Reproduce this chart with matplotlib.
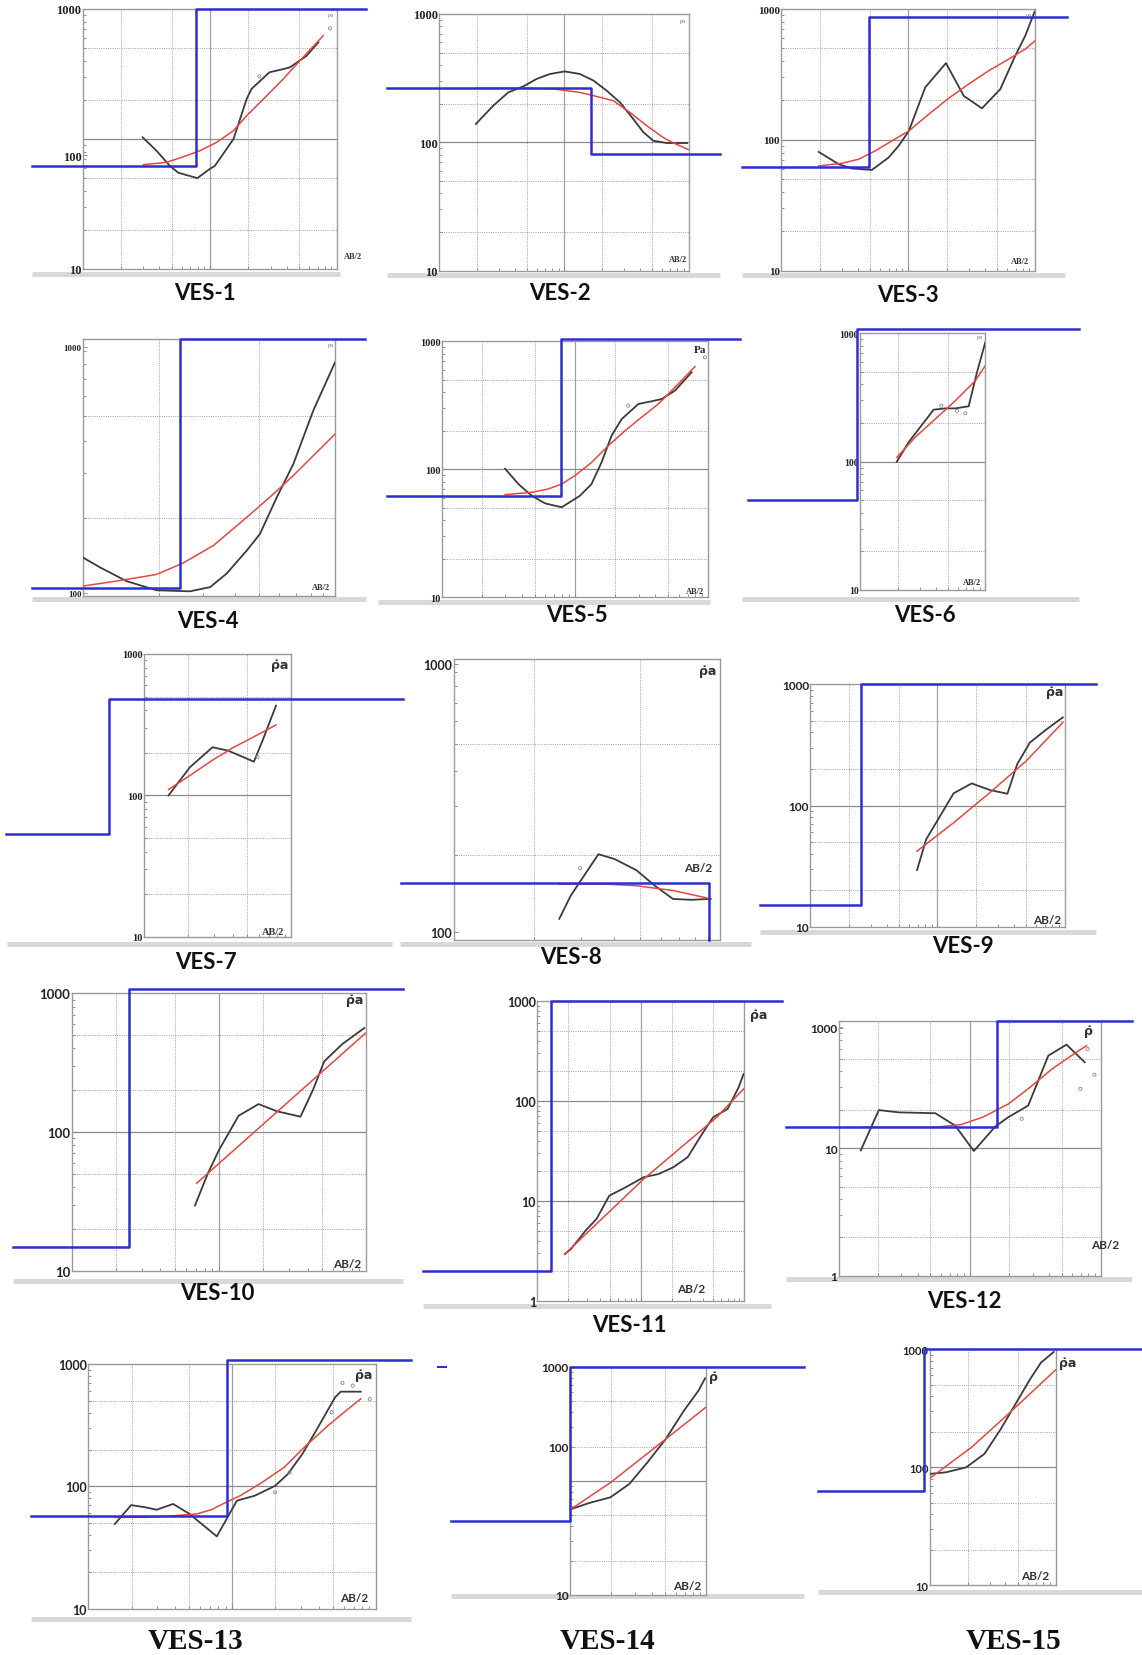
import matplotlib.pyplot as plt
from matplotlib.lines import Line2D
from matplotlib.ticker import LogLocator, NullFormatter

W, H = 1142, 1656

BLUE = "#2e2ecf"
RED = "#e8463f"
BLACK = "#3b3b3b"
GRID = "#a0a0a0"
FRAME = "#9a9a9a"
BAR = "#d8d8d8"
SERIF = ["Liberation Serif", "DejaVu Serif"]
SANS = ["Lato", "DejaVu Sans"]

# ---- field curves (AB/2 in m, apparent resistivity in ohm.m) ----
VES1_AB = [2.96, 3.81, 4.85, 5.64, 7.95, 10.0, 10.9, 15.3, 19.4, 21.2, 29.3, 37.7, 42.5, 57.4, 71]
VES1_RHO = [103, 81, 62, 55, 50, 59, 62, 100, 203, 243, 326, 345, 356, 437, 554]
VES1_FIT_AB = [3.0, 4.57, 6.56, 8.35, 11.3, 15.3, 19.4, 27.9, 37.7, 50.9, 77.6]
VES1_FIT_RHO = [63.5, 66.2, 74.5, 81.3, 94.3, 116, 151, 215, 290, 401, 624]
VES1_MODEL_AB = [0.398, 7.8, 7.8, 167]
VES1_MODEL_RHO = [62, 62, 1000, 1000]
VES1_MARK_AB = [24.4, 87.6]
VES1_MARK_RHO = [303, 709]

VES2_AB = [1.96, 2.70, 3.56, 4.70, 6.01, 7.68, 10.1, 13.3, 17.1, 21.8, 27.9, 35.6, 42.9, 51.5, 65.9, 84.2, 96]
VES2_RHO = [139, 193, 245, 273, 312, 341, 357, 341, 303, 253, 205, 152, 120, 103, 98.8, 98.8, 98.8]
VES2_FIT_AB = [1.96, 4.70, 8.17, 13.3, 17.1, 24.7, 33.5, 45.6, 61.9, 74.5, 98]
VES2_FIT_RHO = [264, 264, 261, 245, 231, 211, 171, 135, 109, 99, 88]
VES2_MODEL_AB = [0.379, 16.5, 16.5, 176]
VES2_MODEL_RHO = [264, 264, 80.5, 80.5]

VES3_AB = [1.97, 2.83, 3.60, 5.17, 7.0, 8.4, 10.1, 13.6, 19.8, 27.3, 38.0, 53, 69.6, 83.4, 98.8]
VES3_RHO = [80.9, 65.2, 60.4, 58.9, 73.3, 90, 117, 252, 386, 217, 174, 244, 440, 625, 954]
VES3_FIT_AB = [1.97, 3.0, 4.06, 5.5, 7.43, 10.1, 14.5, 20.8, 29.9, 42.9, 61.7, 83.4, 100]
VES3_FIT_RHO = [63.2, 66.2, 71.1, 82.4, 98.3, 117, 157, 208, 267, 337, 414, 494, 573]
VES3_MODEL_AB = [0.49, 4.87, 4.87, 178]
VES3_MODEL_RHO = [62.1, 62.1, 863, 863]

VES4_AB = [1.0, 1.17, 1.49, 1.96, 2.66, 3.2, 3.72, 4.47, 5.04, 5.87, 6.84, 8.2, 10]
VES4_RHO = [141, 129, 114, 105, 104, 108, 122, 150, 174, 241, 326, 526, 811]
VES4_FIT_AB = [1.0, 1.36, 1.96, 2.5, 3.3, 4.47, 5.7, 6.84, 8.2, 10]
VES4_FIT_RHO = [109, 114, 121, 134, 157, 202, 249, 294, 351, 426]
VES4_MODEL_AB = [0.628, 2.43, 2.43, 13.2]
VES4_MODEL_RHO = [107, 107, 1000, 1000]

VES5_AB = [2.99, 3.76, 4.73, 5.96, 7.94, 10.9, 13.3, 15.8, 18.8, 22.4, 29.9, 37.6, 44.7, 56.2, 75]
VES5_RHO = [101, 76.7, 62.2, 54.2, 50.5, 62.2, 76.7, 113, 183, 247, 324, 340, 354, 412, 573]
VES5_FIT_AB = [2.99, 4.73, 6.31, 7.94, 10, 13.3, 17.8, 23.7, 31.6, 42.2, 56.2, 79.4]
VES5_FIT_RHO = [63.4, 66.1, 70.2, 76.7, 89.3, 113, 153, 200, 255, 324, 437, 634]
VES5_MODEL_AB = [0.387, 7.85, 7.85, 173]
VES5_MODEL_RHO = [62.2, 62.2, 1043, 1043]
VES5_MARK_AB = [25.1, 94.4]
VES5_MARK_RHO = [314, 750]

VES6_AB = [1.96, 2.44, 3.86, 4.79, 5.75, 7.36, 8.58, 10]
VES6_RHO = [100, 142, 254, 260, 260, 270, 496, 851]
VES6_FIT_AB = [1.96, 2.75, 3.98, 5.75, 8.32, 10]
VES6_FIT_RHO = [108, 155, 215, 298, 427, 560]
VES6_MODEL_AB = [0.126, 0.94, 0.94, 55.8]
VES6_MODEL_RHO = [50.6, 50.6, 1080, 1080]
VES6_MARK_AB = [4.45, 5.93, 6.92]
VES6_MARK_RHO = [273, 249, 238]

VES7_AB = [1.47, 2.05, 2.92, 3.73, 5.57, 6.43, 7.86]
VES7_RHO = [100, 158, 219, 207, 173, 250, 431]
VES7_FIT_AB = [1.47, 2.05, 2.88, 4.07, 5.74, 7.86]
VES7_FIT_RHO = [110, 138, 176, 219, 264, 315]
VES7_MODEL_AB = [0.117, 0.58, 0.58, 56.7]
VES7_MODEL_RHO = [53.2, 53.2, 481, 481]
VES7_MARK_AB = [5.9]
VES7_MARK_RHO = [186]

VES8_AB = [2.49, 2.75, 3.49, 4.02, 4.85, 5.68, 6.64, 7.77, 9.09]
VES8_RHO = [119, 144, 202, 194, 177, 156, 140, 139, 140]
VES8_FIT_AB = [2.48, 3.77, 4.85, 6.64, 9.25]
VES8_FIT_RHO = [158, 158, 156, 150, 140]
VES8_MODEL_AB = [0.633, 9.04, 9.04]
VES8_MODEL_RHO = [160, 160, 100]
VES8_MARK_AB = [2.98]
VES8_MARK_RHO = [180]

VES9_AB = [6.91, 8.15, 9.94, 13.4, 18.6, 25.9, 35.5, 42.4, 53.4, 69.6, 96.8]
VES9_RHO = [29.4, 52.6, 74.5, 126, 152, 134, 125, 219, 330, 412, 531]
VES9_FIT_AB = [6.91, 13.4, 25.9, 50, 96.8]
VES9_FIT_RHO = [42.1, 72.1, 128, 233, 483]
VES9_MODEL_AB = [0.405, 2.49, 2.49, 175]
VES9_MODEL_RHO = [15.1, 15.1, 1000, 1000]

VES10_AB = [6.87, 8.38, 9.95, 13.6, 18.6, 24.8, 35.8, 43.8, 51.9, 69.0, 97.2]
VES10_RHO = [29.5, 49.8, 73.3, 131, 159, 141, 129, 204, 323, 431, 562]
VES10_FIT_AB = [7.06, 17.6, 41.3, 98.9]
VES10_FIT_RHO = [42.7, 101, 226, 515]
VES10_MODEL_AB = [0.397, 2.46, 2.46, 177]
VES10_MODEL_RHO = [14.9, 14.9, 1075, 1075]

VES11_AB = [1.85, 2.12, 2.93, 3.74, 4.97, 7.15, 10.7, 14.9, 20.6, 28.5, 39.3, 50.2, 69.4, 88.7, 99]
VES11_RHO = [2.95, 3.31, 5.05, 6.61, 11.3, 13.7, 17.3, 18.6, 21.7, 27.4, 46.8, 68.7, 83.2, 137, 186]
VES11_FIT_AB = [1.85, 10.7, 54.4, 99]
VES11_FIT_RHO = [2.95, 16.6, 68.7, 132]
VES11_MODEL_AB = [0.078, 1.35, 1.35, 235]
VES11_MODEL_RHO = [2.01, 2.01, 1000, 1000]

VES12_AB = [1.47, 2.02, 2.87, 5.45, 7.74, 10.7, 15.6, 19.6, 27.8, 39.6, 54.5, 75]
VES12_RHO = [9.6, 19.9, 19.1, 18.8, 15.0, 9.5, 14.8, 17.5, 21.6, 53.2, 64.9, 47.2]
VES12_FIT_AB = [1.47, 5.45, 8.52, 12.5, 19.6, 28.7, 42.2, 61.9, 77.4]
VES12_FIT_RHO = [14.6, 14.6, 15.3, 17.5, 22.2, 30.0, 41.8, 54.8, 63.7]
VES12_MODEL_AB = [0.396, 16.2, 16.2, 172]
VES12_MODEL_RHO = [14.6, 14.6, 100, 100]
VES12_MARK_AB = [24.8, 69.5, 89, 78.9]
VES12_MARK_RHO = [17.0, 29.2, 37.7, 60]

VES13_AB = [1.53, 1.99, 2.51, 2.99, 3.89, 5.06, 7.83, 10.8, 14.4, 19.9, 24.4, 30.8, 38.9, 52.0, 56.8, 78.3]
VES13_RHO = [49.2, 70.3, 67.3, 64.4, 71.8, 59.5, 39.0, 76.4, 83.9, 101, 126, 184, 294, 535, 594, 594]
VES13_FIT_AB = [1.53, 2.51, 4.0, 5.68, 7.17, 9.06, 11.4, 16.2, 23.0, 32.6, 46.3, 62.0, 78.3]
VES13_FIT_RHO = [55.8, 55.8, 57.6, 59.5, 64.4, 74.0, 83.9, 108, 143, 215, 313, 416, 518]
VES13_MODEL_AB = [0.40, 9.16, 9.16, 175]
VES13_MODEL_RHO = [56.9, 56.9, 1085, 1085]
VES13_MARK_AB = [58.5, 68.9, 90.6, 19.9, 49.1, 25.1]
VES13_MARK_RHO = [700, 666, 518, 89.3, 403, 130]

VES14_AB = [1.02, 1.38, 1.98, 2.73, 3.72, 5.06, 6.90, 8.83, 9.88]
VES14_RHO = [56.7, 64.1, 71.9, 94.1, 146, 233, 414, 620, 796]
VES14_FIT_AB = [1.0, 2.0, 5.06, 10]
VES14_FIT_RHO = [56, 97.5, 233, 443]
VES14_MODEL_AB = [0.133, 1.0, 1.0, 53.1]
VES14_MODEL_RHO = [44.3, 44.3, 1000, 1000]

VES15_AB = [1.0, 1.35, 1.95, 2.72, 3.67, 4.8, 6.27, 7.66, 9.67]
VES15_RHO = [87.9, 90.8, 100, 130, 211, 343, 557, 771, 949]
VES15_FIT_AB = [1.0, 2.15, 4.2, 10]
VES15_FIT_RHO = [80.7, 148, 282, 668]
VES15_MODEL_AB = [0.129, 0.905, 0.905, 49]
VES15_MODEL_RHO = [63.5, 63.5, 1000, 1000]

SERIES = {
    1: (VES1_AB, VES1_RHO, VES1_FIT_AB, VES1_FIT_RHO, VES1_MODEL_AB, VES1_MODEL_RHO, VES1_MARK_AB, VES1_MARK_RHO),
    2: (VES2_AB, VES2_RHO, VES2_FIT_AB, VES2_FIT_RHO, VES2_MODEL_AB, VES2_MODEL_RHO, [], []),
    3: (VES3_AB, VES3_RHO, VES3_FIT_AB, VES3_FIT_RHO, VES3_MODEL_AB, VES3_MODEL_RHO, [], []),
    4: (VES4_AB, VES4_RHO, VES4_FIT_AB, VES4_FIT_RHO, VES4_MODEL_AB, VES4_MODEL_RHO, [], []),
    5: (VES5_AB, VES5_RHO, VES5_FIT_AB, VES5_FIT_RHO, VES5_MODEL_AB, VES5_MODEL_RHO, VES5_MARK_AB, VES5_MARK_RHO),
    6: (VES6_AB, VES6_RHO, VES6_FIT_AB, VES6_FIT_RHO, VES6_MODEL_AB, VES6_MODEL_RHO, VES6_MARK_AB, VES6_MARK_RHO),
    7: (VES7_AB, VES7_RHO, VES7_FIT_AB, VES7_FIT_RHO, VES7_MODEL_AB, VES7_MODEL_RHO, VES7_MARK_AB, VES7_MARK_RHO),
    8: (VES8_AB, VES8_RHO, VES8_FIT_AB, VES8_FIT_RHO, VES8_MODEL_AB, VES8_MODEL_RHO, VES8_MARK_AB, VES8_MARK_RHO),
    9: (VES9_AB, VES9_RHO, VES9_FIT_AB, VES9_FIT_RHO, VES9_MODEL_AB, VES9_MODEL_RHO, [], []),
    10: (VES10_AB, VES10_RHO, VES10_FIT_AB, VES10_FIT_RHO, VES10_MODEL_AB, VES10_MODEL_RHO, [], []),
    11: (VES11_AB, VES11_RHO, VES11_FIT_AB, VES11_FIT_RHO, VES11_MODEL_AB, VES11_MODEL_RHO, [], []),
    12: (VES12_AB, VES12_RHO, VES12_FIT_AB, VES12_FIT_RHO, VES12_MODEL_AB, VES12_MODEL_RHO, VES12_MARK_AB, VES12_MARK_RHO),
    13: (VES13_AB, VES13_RHO, VES13_FIT_AB, VES13_FIT_RHO, VES13_MODEL_AB, VES13_MODEL_RHO, VES13_MARK_AB, VES13_MARK_RHO),
    14: (VES14_AB, VES14_RHO, VES14_FIT_AB, VES14_FIT_RHO, VES14_MODEL_AB, VES14_MODEL_RHO, [], []),
    15: (VES15_AB, VES15_RHO, VES15_FIT_AB, VES15_FIT_RHO, VES15_MODEL_AB, VES15_MODEL_RHO, [], []),
}

# grid line sets: (dotted, solid)
X100 = ([2, 5, 20, 50], [10])
X10 = ([2, 5], [])
Y10_1000 = ([20, 50, 200, 500], [100])
Y100_1000 = ([200, 500], [])
Y1_1000 = ([2, 5, 20, 50, 200, 500], [10, 100])
Y1_100 = ([2, 5, 20, 50], [10])
DECADES = [10, 100, 1000]
DEC_LABELS = ["10", "100", "1000"]
RHO_DOT = "\u03c1\u0307a"

# layout, in pixels of the 1142x1656 picture
LAYOUT = [
    dict(n=1, box=(82.7, 10, 337.3, 270), xlim=(1, 100), ylim=(10, 1000), xg=X100, yg=Y10_1000,
         yt=[10, 75, 1000], ytl=DEC_LABELS, tf="serif", ts=9, title=(205, 293), tfont="sans",
         bar=(32, 340, 275), rho=("\u03c1a", 331, 16, "tiny"), ab=(353, 257, "serif_s")),
    dict(n=2, box=(439.3, 15, 689.3, 271.7), xlim=(1, 100), ylim=(10, 1000), xg=X100, yg=Y10_1000,
         yt=DECADES, ytl=DEC_LABELS, tf="serif", ts=9, title=(560, 293), tfont="sans",
         bar=(387, 720, 276), rho=("\u03c1a", 683, 21, "tiny"), ab=(678, 260, "serif_s")),
    dict(n=3, box=(781.3, 10, 1035.3, 271.7), xlim=(1, 100), ylim=(10, 1000), xg=X100, yg=Y10_1000,
         yt=DECADES, ytl=DEC_LABELS, tf="serif", ts=8, title=(908, 295), tfont="sans",
         bar=(742, 1065, 276), rho=("\u03c1a", 1029, 15, "tiny"), ab=(1020, 262, "serif_s")),
    dict(n=4, box=(82.7, 340, 335, 596.7), xlim=(1, 10), ylim=(100, 1000), xg=X10, yg=Y100_1000,
         yt=[102, 929], ytl=["100", "1000"], tf="serif", ts=6.5, title=(208, 622), tfont="sans",
         bar=(32, 366, 600), rho=("\u03c1a", 331, 346, "tiny"), ab=(321, 588, "serif_s")),
    dict(n=5, box=(441.7, 342.3, 708.3, 598.3), xlim=(1, 100), ylim=(10, 1000), xg=X100, yg=Y10_1000,
         yt=DECADES, ytl=DEC_LABELS, tf="serif", ts=7.5, title=(577, 615), tfont="sans",
         bar=(378, 710, 603), rho=("Pa", 700, 351, "serif_b"), ab=(695, 592, "serif_s")),
    dict(n=6, box=(860.3, 334.3, 985.3, 591), xlim=(1, 10), ylim=(10, 1000), xg=X10, yg=Y10_1000,
         yt=DECADES, ytl=DEC_LABELS, tf="serif", ts=7, title=(925, 615), tfont="sans",
         bar=(742, 1079, 600), rho=("\u03c1a", 980, 337, "tiny"), ab=(972, 583, "serif_s")),
    dict(n=7, box=(143.9, 655, 291.4, 937.7), xlim=(1, 10), ylim=(10, 1000), xg=X10, yg=Y10_1000,
         yt=DECADES, ytl=DEC_LABELS, tf="serif", ts=7.5, title=(206, 963), tfont="sans",
         bar=(7, 392, 945), rho=(RHO_DOT, 280, 666, "sans_b"), ab=(273, 933, "serif_m")),
    dict(n=8, box=(453.6, 660, 720.4, 941), xlim=(1, 10), ylim=(100, 1000), xg=X10, yg=Y100_1000,
         yt=[107, 960], ytl=["100", "1000"], tf="sans", ts=9, title=(571, 958), tfont="sans",
         bar=(400, 751, 945), rho=(RHO_DOT, 708, 671, "sans_b"), ab=(698, 869, "sans")),
    dict(n=9, box=(810.3, 685, 1064.6, 928), xlim=(1, 100), ylim=(10, 1000), xg=X100, yg=Y10_1000,
         yt=DECADES, ytl=DEC_LABELS, tf="sans", ts=8.5, title=(963, 947), tfont="sans",
         bar=(760, 1096, 933), rho=(RHO_DOT, 1055, 693, "sans_b"), ab=(1047, 921, "sans")),
    dict(n=10, box=(71.8, 994.3, 366.1, 1271.7), xlim=(1, 100), ylim=(10, 1000), xg=X100, yg=Y10_1000,
         yt=DECADES, ytl=DEC_LABELS, tf="sans", ts=9.5, title=(217, 1293), tfont="sans",
         bar=(13, 403, 1282), rho=(RHO_DOT, 355, 1001, "sans_b"), ab=(347, 1265, "sans")),
    dict(n=11, box=(537.3, 1002, 744, 1302), xlim=(1, 100), ylim=(1, 1000), xg=X100, yg=Y1_1000,
         yt=[1, 10, 100, 1000], ytl=["1", "10", "100", "1000"], tf="sans", ts=9, title=(629, 1326),
         tfont="sans", bar=(423, 771, 1307), rho=(RHO_DOT, 759, 1016, "sans_b"), ab=(691, 1290, "sans")),
    dict(n=12, box=(838.8, 1021.7, 1101.1, 1276.7), xlim=(1, 100), ylim=(1, 100), xg=X100, yg=Y1_100,
         yt=[1, 10, 88], ytl=["1", "10", "1000"], tf="sans", ts=8.5, title=(964, 1302), tfont="sans",
         bar=(786, 1132, 1280), rho=("\u03c1\u0307", 1088, 1032, "sans_b"), ab=(1105, 1246, "sans")),
    dict(n=13, box=(88.2, 1365, 376, 1609.7), xlim=(1, 100), ylim=(10, 1000), xg=X100, yg=Y10_1000,
         yt=DECADES, ytl=DEC_LABELS, tf="sans", ts=9, title=(195, 1642), tfont="serif",
         bar=(31, 411, 1620), rho=(RHO_DOT, 364, 1376, "sans_b"), ab=(354, 1599, "sans")),
    dict(n=14, box=(570.1, 1368, 705.8, 1596), xlim=(1, 10), ylim=(10, 1000), xg=X10, yg=Y10_1000,
         yt=[10, 200, 1000], ytl=DEC_LABELS, tf="sans", ts=8.5, title=(607, 1642), tfont="serif",
         bar=(451, 804, 1597), rho=("\u03c1\u0307", 713, 1377, "sans_b"), ab=(687, 1587, "sans")),
    dict(n=15, box=(929.8, 1350.3, 1055.5, 1586.3), xlim=(1, 10), ylim=(10, 1000), xg=X10, yg=Y10_1000,
         yt=DECADES, ytl=DEC_LABELS, tf="sans", ts=8, title=(1014, 1642), tfont="serif",
         bar=(818, 1142, 1593), rho=(RHO_DOT, 1068, 1364, "sans_b"), ab=(1035, 1577, "sans")),
]

TEXT_STYLES = {
    "tiny": dict(family=SERIF, size=4.5, color="#777777"),
    "serif_s": dict(family=SERIF, size=6, weight="bold", color="#333333"),
    "serif_m": dict(family=SERIF, size=7.5, weight="bold", color="#333333"),
    "serif_b": dict(family=SERIF, size=8, weight="bold", color="#222222"),
    "sans": dict(family=SANS, size=8.5, weight="bold", color="#333333"),
    "sans_b": dict(family=SANS, size=9, weight="bold", color="#333333"),
}

fig = plt.figure(figsize=(W / 100, H / 100), dpi=100)
fig.patch.set_facecolor("white")


def fig_xy(x, y):
    return x / W, 1 - y / H


def draw_panel(spec):
    ab, rho, fit_ab, fit_rho, mod_ab, mod_rho, mark_ab, mark_rho = SERIES[spec["n"]]
    L, T, R, B = spec["box"]
    ax = fig.add_axes([L / W, 1 - B / H, (R - L) / W, (B - T) / H])
    ax.set_xscale("log")
    ax.set_yscale("log")
    ax.set_xlim(*spec["xlim"])
    ax.set_ylim(*spec["ylim"])

    xdot, xsolid = spec["xg"]
    ydot, ysolid = spec["yg"]
    for v in xdot:
        ax.axvline(v, color=GRID, lw=0.7, ls=(0, (1, 1.3)), zorder=1)
    for v in xsolid:
        ax.axvline(v, color=GRID, lw=0.9, zorder=1)
    for v in ydot:
        ax.axhline(v, color=GRID, lw=0.7, ls=(0, (1, 1.3)), zorder=1)
    for v in ysolid:
        ax.axhline(v, color="#8a8a8a", lw=0.9, zorder=1)

    ax.plot(ab, rho, color=BLACK, lw=1.3, zorder=3)
    ax.plot(fit_ab, fit_rho, color=RED, lw=1.1, zorder=4)
    ax.plot(mod_ab, mod_rho, color=BLUE, lw=1.8, zorder=6, clip_on=False)
    if mark_ab:
        ax.scatter(mark_ab, mark_rho, s=5, facecolors="none", edgecolors="#888888",
                   linewidths=0.6, zorder=5)

    for s in ax.spines.values():
        s.set_color(FRAME)
        s.set_linewidth(1.0)

    ax.set_yticks(spec["yt"])
    fam = SERIF if spec["tf"] == "serif" else SANS
    ax.set_yticklabels(spec["ytl"], fontfamily=fam, fontweight="bold", fontsize=spec["ts"],
                       color="#222222")
    ax.yaxis.set_minor_locator(LogLocator(base=10, subs=range(2, 10)))
    ax.yaxis.set_minor_formatter(NullFormatter())
    ax.xaxis.set_major_formatter(NullFormatter())
    ax.xaxis.set_minor_formatter(NullFormatter())
    ax.xaxis.set_minor_locator(LogLocator(base=10, subs=range(2, 10)))
    ax.tick_params(axis="both", which="both", direction="in", color="#808080", width=0.6)
    ax.tick_params(axis="both", which="major", length=3, pad=1)
    ax.tick_params(axis="both", which="minor", length=2)

    x0, x1, yb = spec["bar"]
    fig.add_artist(Line2D([x0 / W, x1 / W], [1 - yb / H] * 2, transform=fig.transFigure,
                          color=BAR, lw=3.5, solid_capstyle="butt", zorder=0))

    tx, ty = fig_xy(*spec["title"])
    if spec["tfont"] == "serif":
        fig.text(tx, ty, f"VES-{spec['n']}", ha="center", va="center", family=SERIF,
                 weight="bold", size=21, color="#111111")
    else:
        fig.text(tx, ty, f"VES-{spec['n']}", ha="center", va="center", family=SANS,
                 weight="bold", size=16, color="#111111")

    label, rx, ry, style = spec["rho"]
    st = TEXT_STYLES[style]
    if style == "sans_b":
        st = dict(st, family=["DejaVu Sans"])
    fig.text(*fig_xy(rx, ry), label, ha="center", va="center", **st)
    ax_x, ax_y, ab_style = spec["ab"]
    fig.text(*fig_xy(ax_x, ax_y), "AB/2", ha="center", va="center", **TEXT_STYLES[ab_style])
    return ax


for spec in LAYOUT:
    draw_panel(spec)

# small stray stroke left of VES-14 in the scanned figure
fig.add_artist(Line2D([438 / W, 446 / W], [1 - 1368 / H] * 2, transform=fig.transFigure,
                      color=BLUE, lw=1.5))

fig.savefig("out.png", dpi=100, facecolor="white")
